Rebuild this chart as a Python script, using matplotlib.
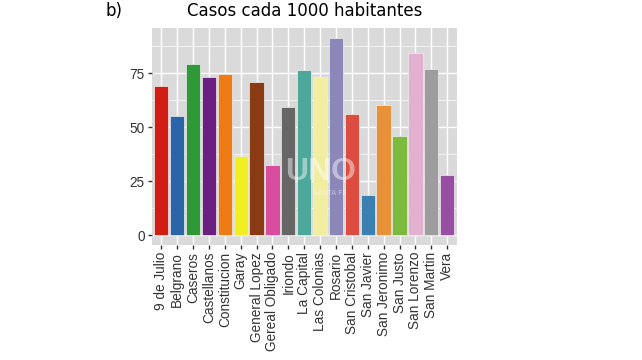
import matplotlib.pyplot as plt
from matplotlib.ticker import MultipleLocator
import numpy as np

departamentos = ['9 de Julio', 'Belgrano', 'Caseros', 'Castellanos', 'Constitucion',
                 'Garay', 'General Lopez', 'Gereal Obligado', 'Iriondo', 'La Capital',
                 'Las Colonias', 'Rosario', 'San Cristobal', 'San Javier', 'San Jeronimo',
                 'San Justo', 'San Lorenzo', 'San Martin', 'Vera']
casos = [68.8, 55.3, 79.4, 73.3, 74.4, 36.5, 70.8, 32.3, 59.1, 76.5,
         73.3, 91.3, 56.1, 18.7, 60.2, 45.9, 84.1, 76.9, 27.7]
colores = ['#d21d15', '#2a65aa', '#2e9936', '#6b1f80', '#ee7b14', '#f1ef22',
           '#8a3b14', '#d94d9f', '#666666', '#4da89c', '#f1eda1', '#8b87b9',
           '#dc4c40', '#3c80b2', '#e79238', '#7cba3e', '#e2b1cf', '#9d9d9d', '#974ea3']

fig = plt.figure(figsize=(6.42, 3.6), dpi=100)
ax = fig.add_axes([0.2363, 0.3194, 0.4751, 0.6028])

x = np.arange(1, len(departamentos) + 1)
ax.bar(x, casos, width=0.9, color=colores, edgecolor='#eeeeee', linewidth=0.5, zorder=3)

ax.set_facecolor('#dadada')
ax.set_xlim(0.4, 19.6)
ymax = max(casos)
ax.set_ylim(-0.05 * ymax, 1.05 * ymax)
ax.yaxis.set_major_locator(MultipleLocator(25))
ax.yaxis.set_minor_locator(MultipleLocator(12.5))
ax.grid(which='major', color='white', linewidth=1.0, zorder=1)
ax.grid(which='minor', axis='y', color='white', linewidth=0.5, zorder=1)
ax.tick_params(which='minor', length=0)
for s in ax.spines.values():
    s.set_visible(False)

ax.set_xticks(x)
ax.set_xticklabels(departamentos, rotation=90, fontsize=9.8,
                   family='Liberation Sans', color='#333333')
ax.set_yticks([0, 25, 50, 75])
ax.set_yticklabels(['0', '25', '50', '75'], fontsize=9.8,
                   family='Liberation Sans', color='#333333')
ax.tick_params(which='major', length=3, width=1, color='#333333', pad=2)

# marca de agua
ax.text(11.05, 29, 'UNO', fontsize=23, fontweight='bold', color='white', alpha=0.45,
        ha='center', va='center', zorder=4, family='Liberation Sans')
ax.text(11.6, 19.5, 'SANTA FE', fontsize=5, color='white', alpha=0.5,
        ha='center', va='center', zorder=4)

fig.text(0.475, 0.97, 'Casos cada 1000 habitantes', fontsize=12,
         ha='center', va='center')
fig.text(0.165, 0.97, 'b)', fontsize=12, ha='left', va='center')

fig.savefig('out.png', dpi=100)
